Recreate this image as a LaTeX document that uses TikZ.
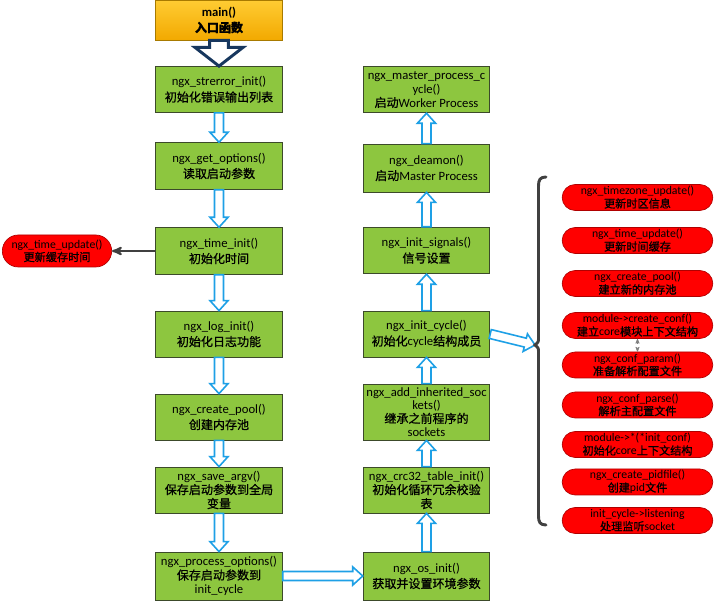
\documentclass[tikz,border=0pt]{standalone}
\usepackage{fontspec}
\setmainfont{Carlito}
\newfontfamily\cjk{Noto Sans CJK SC}[Scale=0.95,FakeBold=0.8]
\usetikzlibrary{arrows,calc,shapes.misc}

\definecolor{boxgreen}{HTML}{8DC63F}
\definecolor{boxline}{HTML}{3C4A2A}
\definecolor{maintop}{HTML}{FFCC33}
\definecolor{mainbot}{HTML}{F2A900}
\definecolor{mainline}{HTML}{A87A00}
\definecolor{pipeblue}{HTML}{1EA0E6}
\definecolor{navy}{HTML}{17375E}
\definecolor{callred}{HTML}{FF0000}
\definecolor{callline}{HTML}{B00000}
\definecolor{linegray}{HTML}{404040}

\tikzset{
  fatarrow/.style n args={3}{to path={
    ($(\tikztostart)!#1!90:(\tikztotarget)$)
    -- ($(\tikztotarget)!#3!(\tikztostart)!#1!90:(\tikztotarget)$)
    -- ($(\tikztotarget)!#3!(\tikztostart)!#2!90:(\tikztotarget)$)
    -- (\tikztotarget)
    -- ($(\tikztotarget)!#3!(\tikztostart)!#2!-90:(\tikztotarget)$)
    -- ($(\tikztotarget)!#3!(\tikztostart)!#1!-90:(\tikztotarget)$)
    -- ($(\tikztostart)!#1!-90:(\tikztotarget)$) -- cycle}},
  hollow/.style={fatarrow={3.4pt}{6.8pt}{7.5pt}, draw=pipeblue, fill=white, line width=1.2pt},
  bigarrow/.style={fatarrow={7pt}{18pt}{14pt}, draw=navy, fill=white, line width=2.2pt},
  fn/.style={draw=boxline, fill=boxgreen, line width=0.6pt, minimum width=95pt,
    minimum height=#1, inner sep=1pt, align=center, font=\fontsize{9.5}{12}\selectfont},
  fn/.default=35pt,
  mainbox/.style={draw=mainline, top color=maintop, bottom color=mainbot, line width=0.6pt,
    minimum width=95pt, minimum height=30pt, align=center, font=\bfseries\fontsize{9.5}{12}\selectfont},
  call/.style={rounded rectangle, draw=callline, fill=callred, line width=0.5pt,
    minimum width=113pt, minimum height=19.5pt, inner xsep=0pt, inner ysep=0pt,
    align=center, font=\fontsize{8.8}{9.6}\selectfont}
}

\begin{document}
\begin{tikzpicture}[>=stealth', x=0.75pt, y=-0.75pt]
   \path[use as bounding box, fill=white] (0,0) rectangle (715,602);

   \node[mainbox] (main) at (219,20) {main()\\{\cjk 入口函数}};
   \node[fn=34.5pt] (strerror) at (219,89.5) {ngx\_strerror\_init()\\{\cjk 初始化错误输出列表}};
   \node[fn] (getopt) at (219,166) {ngx\_get\_options()\\{\cjk 读取启动参数}};
   \node[fn] (timeinit) at (219,251) {ngx\_time\_init()\\{\cjk 初始化时间}};
   \node[fn=34.5pt] (loginit) at (219,334) {ngx\_log\_init()\\{\cjk 初始化日志功能}};
   \node[fn=34.5pt] (leftpool) at (219,417) {ngx\_create\_pool()\\{\cjk 创建内存池}};
   \node[fn=34.5pt, font=\fontsize{9.5}{10.5}\selectfont] (saveargv) at (219,490) {ngx\_save\_argv()\\{\cjk 保存启动参数到全局}\\{\cjk 变量}};
   \node[fn=36pt, font=\fontsize{9.5}{10.5}\selectfont] (procopt) at (219,576) {ngx\_process\_options()\\{\cjk 保存启动参数到}\\init\_cycle};

   \node[fn=36pt] (osinit) at (426.5,576) {ngx\_os\_init()\\{\cjk 获取并设置环境参数}};
   \node[fn=34.5pt, font=\fontsize{9.5}{10.5}\selectfont] (crc) at (426.5,490) {ngx\_crc32\_table\_init()\\{\cjk 初始化循环冗余校验}\\{\cjk 表}};
   \node[fn=42pt, font=\fontsize{9.5}{10}\selectfont] (inherit) at (426.5,412) {ngx\_add\_inherited\_soc\\kets()\\{\cjk 继承之前程序的}\\sockets};
   \node[fn=34.5pt] (initcycle) at (426.5,334) {ngx\_init\_cycle()\\{\cjk 初始化}cycle{\cjk 结构成员}};
   \node[fn] (signals) at (426.5,250.5) {ngx\_init\_signals()\\{\cjk 信号设置}};
   \node[fn=36pt] (daemon) at (426.5,168) {ngx\_deamon()\\{\cjk 启动}Master Process};
   \node[fn, font=\fontsize{9.5}{10.5}\selectfont] (master) at (426.5,89.5) {ngx\_master\_process\_c\\ycle()\\{\cjk 启动}Worker Process};

   \node[call, minimum width=82pt, minimum height=24pt] (timeupd) at (57,251) {ngx\_time\_update()\\{\cjk 更新缓存时间}};

   \node[call] (c1) at (637.5,197.5) {ngx\_timezone\_update()\\{\cjk 更新时区信息}};
   \node[call] (c2) at (637.5,240.5) {ngx\_time\_update()\\{\cjk 更新时间缓存}};
   \node[call] (c3) at (637.5,283.5) {ngx\_create\_pool()\\{\cjk 建立新的内存池}};
   \node[call] (c4) at (637.5,325.5) {module->create\_conf()\\{\cjk 建立}core{\cjk 模块上下文结构}};
   \node[call] (c5) at (637.5,365) {ngx\_conf\_param()\\{\cjk 准备解析配置文件}};
   \node[call] (c6) at (637.5,405) {ngx\_conf\_parse()\\{\cjk 解析主配置文件}};
   \node[call] (c7) at (637.5,444.5) {module->*(*init\_conf)\\{\cjk 初始化}core{\cjk 上下文结构}};
   \node[call] (c8) at (637.5,482) {ngx\_create\_pidfile()\\{\cjk 创建}pid{\cjk 文件}};
   \node[call] (c9) at (637.5,520.5) {init\_cycle->listening\\{\cjk 处理监听}socket};

   \coordinate (bracetip) at (535,345);

   \draw[bigarrow] (main.south) to (strerror.north);
   \foreach \a/\b in {strerror/getopt, getopt/timeinit, timeinit/loginit, loginit/leftpool, leftpool/saveargv, saveargv/procopt}
      \draw[hollow] (\a.south) to (\b.north);
   \foreach \a/\b in {osinit/crc, crc/inherit, inherit/initcycle, initcycle/signals, signals/daemon, daemon/master}
      \draw[hollow] (\a.north) to (\b.south);
   \draw[hollow] (procopt.east) to (osinit.west);
   \draw[hollow] (initcycle.east) to (bracetip);

   \draw[->, linegray, line width=1.5pt] (timeinit.west) -- (timeupd.east);
   \draw[<->, dashed, gray, line width=0.4pt] (c4.south) -- (c5.north);

   \draw[linegray, line width=2.2pt, line cap=round]
      (546,177) .. controls (540,177) and (538.5,180) .. (538.5,186) -- (538.5,338)
      .. controls (538.5,342) .. (535,345) .. controls (538.5,348) .. (538.5,352)
      -- (538.5,516) .. controls (538.5,522) and (540,525) .. (546,525);
\end{tikzpicture}
\end{document}
